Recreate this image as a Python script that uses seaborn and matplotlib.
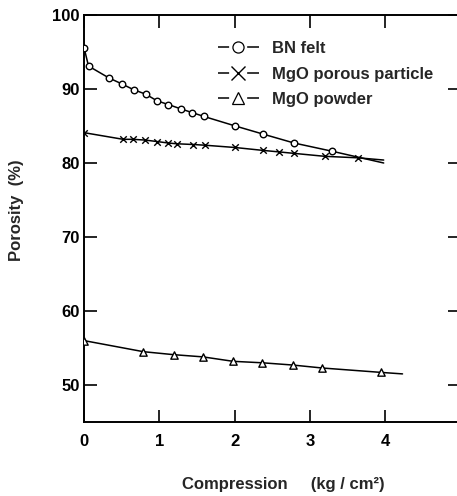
import pandas as pd
import matplotlib.pyplot as plt
import seaborn as sns
import numpy as np
from matplotlib.lines import Line2D

# datos
bn_x = [0.0, 0.06, 0.33, 0.50, 0.66, 0.82, 0.97, 1.12, 1.29, 1.44, 1.59, 2.01, 2.38, 2.79, 3.29]
bn_y = [95.6, 93.1, 91.5, 90.7, 89.9, 89.3, 88.4, 87.9, 87.3, 86.8, 86.3, 85.0, 83.9, 82.7, 81.6]
bn_fin = (3.98, 80.0)

mgo_por_x = [0.0, 0.52, 0.65, 0.81, 0.97, 1.12, 1.23, 1.45, 1.61, 2.00, 2.38, 2.59, 2.79, 3.20, 3.64]
mgo_por_y = [84.1, 83.2, 83.2, 83.1, 82.9, 82.7, 82.6, 82.5, 82.4, 82.1, 81.7, 81.5, 81.3, 80.9, 80.7]
mgo_por_fin = (3.98, 80.4)

mgo_pol_x = [0.0, 0.79, 1.19, 1.58, 1.98, 2.37, 2.77, 3.16, 3.95]
mgo_pol_y = [56.0, 54.5, 54.1, 53.8, 53.2, 53.0, 52.7, 52.3, 51.7]
mgo_pol_fin = (4.23, 51.5)

series = [
    ("BN felt", bn_x, bn_y, bn_fin, "o"),
    ("MgO porous particle", mgo_por_x, mgo_por_y, mgo_por_fin, "x"),
    ("MgO powder", mgo_pol_x, mgo_pol_y, mgo_pol_fin, "^"),
]

x_ticks = [0, 1, 2, 3, 4]
y_ticks = [50, 60, 70, 80, 90, 100]

sns.set_theme(style="ticks")
plt.rcParams['font.family'] = ['Liberation Sans', 'DejaVu Sans']
plt.rcParams['font.weight'] = 'bold'
plt.rcParams['lines.scale_dashes'] = False

fig = plt.figure(figsize=(4.57, 4.96), dpi=100)
ax = fig.add_axes([84 / 457, 74 / 496, 376.5 / 457, 407 / 496])

for nombre, xs, ys, fin, marca in series:
    df_linea = pd.DataFrame({"x": xs + [fin[0]], "y": ys + [fin[1]]})
    sns.lineplot(data=df_linea, x="x", y="y", ax=ax, color="black", lw=1.1,
                 sort=False, estimator=None)
    df_pts = pd.DataFrame({"x": xs, "y": ys})
    if marca == "x":
        sns.scatterplot(data=df_pts, x="x", y="y", ax=ax, marker="x", s=22,
                        color="black", linewidth=1.0, zorder=3)
    else:
        sns.scatterplot(data=df_pts, x="x", y="y", ax=ax, marker=marca,
                        s=22 if marca == "o" else 28,
                        facecolor="white", edgecolor="black", linewidth=1.0, zorder=3)

ax.set_xlim(0, 5)
ax.set_ylim(45, 100)
ax.set_xticks(x_ticks)
ax.set_yticks(y_ticks)
ax.set_xticklabels([str(t) for t in x_ticks], fontsize=12, fontweight='bold')
ax.set_yticklabels([str(t) for t in y_ticks], fontsize=12, fontweight='bold')
ax.tick_params(direction="in", length=9, width=1.2, top=True, right=True,
               colors="black", labelcolor="black")
ax.tick_params(axis="x", pad=9)
ax.tick_params(axis="y", pad=3)
for lado in ["left", "bottom", "top"]:
    ax.spines[lado].set_visible(True)
    ax.spines[lado].set_color("black")
    ax.spines[lado].set_linewidth(1.4)
ax.spines["right"].set_visible(False)
ax.set_xlabel("")
ax.set_ylabel("Porosity  (%)", fontsize=12, fontweight='bold')
ax.yaxis.set_label_coords(-0.16, 0.52)

fig.text(182 / 457, 0.014, "Compression     (kg / cm²)", fontsize=12, fontweight='bold',
         ha="left", va="baseline")

# leyenda: trazo - marca - trazo
handles = []
for nombre, xs, ys, fin, marca in series:
    linea = Line2D([], [], color="black", lw=1.1, linestyle=(0, (8, 13, 9, 50)))
    if marca == "x":
        punto = Line2D([], [], color="black", lw=0, marker="x", markersize=10,
                       markeredgewidth=1.0)
    else:
        punto = Line2D([], [], color="black", lw=0, marker=marca, markersize=8,
                       markerfacecolor="white", markeredgecolor="black", markeredgewidth=0.9)
    handles.append((linea, punto))
leg = ax.legend(handles, [s[0] for s in series], loc="upper left",
                bbox_to_anchor=(0.337, 0.952), frameon=False, fontsize=12,
                handlelength=2.5, labelspacing=0.62, handletextpad=0.75,
                borderaxespad=0)
for t in leg.get_texts():
    t.set_fontweight('bold')

fig.savefig("out.png", dpi=100)
